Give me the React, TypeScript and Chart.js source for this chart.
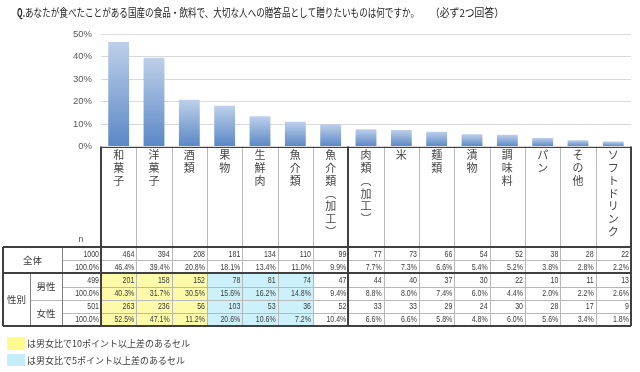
import React, { useEffect, useRef } from 'react';
import { Chart, registerables } from 'chart.js';

Chart.register(...registerables);

// ---- data ----
const categories = ['和菓子', '洋菓子', '酒類', '果物', '生鮮肉', '魚介類', '魚介類（加工）', '肉類（加工）', '米', '麺類', '漬物', '調味料', 'パン', 'その他', 'ソフトドリンク'];
const totalN = [464, 394, 208, 181, 134, 110, 99, 77, 73, 66, 54, 52, 38, 28, 22];
const totalPct = [46.4, 39.4, 20.8, 18.1, 13.4, 11.0, 9.9, 7.7, 7.3, 6.6, 5.4, 5.2, 3.8, 2.8, 2.2];
const maleN = [201, 158, 152, 78, 81, 74, 47, 44, 40, 37, 30, 22, 10, 11, 13];
const malePct = [40.3, 31.7, 30.5, 15.6, 16.2, 14.8, 9.4, 8.8, 8.0, 7.4, 6.0, 4.4, 2.0, 2.2, 2.6];
const femaleN = [263, 236, 56, 103, 53, 36, 52, 33, 33, 29, 24, 30, 28, 17, 9];
const femalePct = [52.5, 47.1, 11.2, 20.6, 10.6, 7.2, 10.4, 6.6, 6.6, 5.8, 4.8, 6.0, 5.6, 3.4, 1.8];
const baseN = [1000, 499, 501];
const highlight = ['y', 'y', 'y', 'c', 'c', 'c', '', '', '', '', '', '', '', '', ''];
const yTickMax = 50;
const yTickStep = 10;

const titleQ = 'Q.';
const titleMain = 'あなたが食べたことがある国産の食品・飲料で、大切な人への贈答品として贈りたいものは何ですか。';
const titleNote = '（必ず2つ回答）';
const legendYellow = 'は男女比で10ポイント以上差のあるセル';
const legendCyan = 'は男女比で5ポイント以上差のあるセル';
const labelTotal = '全体';
const labelGender = '性別';
const labelMale = '男性';
const labelFemale = '女性';
const labelN = 'n';

const CJK = '"Noto Sans CJK JP", "Noto Sans CJK SC", sans-serif';
const NUM = '"Liberation Sans", sans-serif';
const YELLOW = '#fdfbaa';
const CYAN = '#ccf1fa';
const DARK = '#404040';
const GRAY = '#b8b8b8';
const TEXT = '#3a3a3a';

function vertChars(s: string) {
  return Array.from(s).map((c) => (c === '（' ? '︵' : c === '）' ? '︶' : c));
}

function txt(ctx: CanvasRenderingContext2D, s: string, x: number, y: number, align: CanvasTextAlign, font: string, color: string, sx = 1) {
  ctx.save();
  ctx.font = font;
  ctx.fillStyle = color;
  ctx.textBaseline = 'middle';
  ctx.textAlign = align;
  ctx.translate(x, y);
  ctx.scale(sx, 1);
  ctx.fillText(s, 0, 0);
  ctx.restore();
}

function fitTxt(ctx: CanvasRenderingContext2D, s: string, x: number, y: number, font: string, color: string, width: number) {
  ctx.save();
  ctx.font = font;
  const mw = ctx.measureText(s).width;
  ctx.restore();
  txt(ctx, s, x, y, 'left', font, color, width / mw);
}

function line(ctx: CanvasRenderingContext2D, x1: number, y1: number, x2: number, y2: number, color: string, w = 1) {
  ctx.save();
  ctx.strokeStyle = color;
  ctx.lineWidth = w;
  ctx.beginPath();
  const o = w % 2 === 1 ? 0.5 : 0;
  if (x1 === x2) {
    const x = Math.round(x1) + o;
    ctx.moveTo(x, y1);
    ctx.lineTo(x, y2);
  } else {
    const y = Math.round(y1) + o;
    ctx.moveTo(x1, y);
    ctx.lineTo(x2, y);
  }
  ctx.stroke();
  ctx.restore();
}

const tablePlugin = {
  id: 'tablePlugin',
  afterDraw(chart: any) {
    const ctx: CanvasRenderingContext2D = chart.ctx;
    const xs = chart.scales.x;
    const area = chart.chartArea;
    const n = categories.length;
    const w = xs.getPixelForValue(1) - xs.getPixelForValue(0);
    const cx = (i: number) => xs.getPixelForValue(i);
    const colL = (i: number) => cx(i) - w / 2;
    const L = area.left;
    const R = area.right;
    const headTop = area.bottom;
    const tTop = 247;
    const tBot = 326;
    const rh = (tBot - tTop) / 6;
    const rowY = (k: number) => tTop + k * rh;
    const xLeft = 3;
    const xSplit = 62;
    const xGender = 30;

    // title
    fitTxt(ctx, titleQ, 17, 13, `bold 11px ${CJK}`, '#222', 8);
    fitTxt(ctx, titleMain, 25, 13, `11px ${CJK}`, '#222', 394);
    fitTxt(ctx, titleNote, 430, 13, `11px ${CJK}`, '#222', 74);

    // highlights
    for (let i = 0; i < n; i++) {
      const h = highlight[i];
      if (!h) continue;
      ctx.fillStyle = h === 'y' ? YELLOW : CYAN;
      ctx.fillRect(colL(i), rowY(2), w, rowY(6) - rowY(2));
    }

    // gray lines
    for (let i = 1; i < n; i++) {
      line(ctx, colL(i), headTop, colL(i), tBot, GRAY);
    }
    line(ctx, xSplit, rowY(1), R, rowY(1), GRAY);
    line(ctx, xSplit, rowY(3), R, rowY(3), GRAY);
    line(ctx, xGender, rowY(4), R, rowY(4), GRAY);
    line(ctx, xSplit, rowY(5), R, rowY(5), GRAY);
    line(ctx, xSplit, tTop, xSplit, tBot, '#808080');
    line(ctx, xGender, rowY(2), xGender, tBot, '#808080');

    // dark lines
    line(ctx, L, headTop, R, headTop, DARK);
    line(ctx, xLeft, tTop, R, tTop, DARK, 2);
    line(ctx, xLeft, rowY(2), R, rowY(2), DARK, 2);
    line(ctx, xLeft, tBot, R, tBot, DARK, 2);
    line(ctx, L, headTop, L, tBot, DARK, 2);
    line(ctx, R, headTop, R, tBot, DARK, 2);
    line(ctx, xLeft, tTop, xLeft, tBot, DARK, 2);
    line(ctx, colL(7), headTop, colL(7), tBot, DARK, 2);

    // vertical category labels
    for (let i = 0; i < n; i++) {
      const chars = vertChars(categories[i]);
      chars.forEach((c, k) => {
        txt(ctx, c, cx(i), 155 + k * 12.8, 'center', `11px ${CJK}`, '#454545');
      });
    }

    // n label
    txt(ctx, labelN, 81, 240, 'center', `9px "Liberation Sans", sans-serif`, '#555');

    // left labels
    txt(ctx, labelTotal, (xLeft + xSplit) / 2, (rowY(0) + rowY(2)) / 2, 'center', `9.5px ${CJK}`, TEXT);
    txt(ctx, labelGender, (xLeft + xGender) / 2, (rowY(2) + rowY(6)) / 2, 'center', `9.5px ${CJK}`, TEXT);
    txt(ctx, labelMale, (xGender + xSplit) / 2, (rowY(2) + rowY(4)) / 2, 'center', `9.5px ${CJK}`, TEXT);
    txt(ctx, labelFemale, (xGender + xSplit) / 2, (rowY(4) + rowY(6)) / 2 + 1, 'center', `9.5px ${CJK}`, TEXT);

    // numbers
    const numFont = `9px ${NUM}`;
    const sx = 0.78;
    const rows: [number[], number[]][] = [
      [totalN, totalPct],
      [maleN, malePct],
      [femaleN, femalePct],
    ];
    rows.forEach(([ns, ps], r) => {
      const yN = (rowY(r * 2) + rowY(r * 2 + 1)) / 2 + 0.5;
      const yP = (rowY(r * 2 + 1) + rowY(r * 2 + 2)) / 2 + 0.5;
      txt(ctx, String(baseN[r]), L - 2, yN, 'right', numFont, TEXT, sx);
      txt(ctx, '100.0%', L - 2, yP, 'right', numFont, TEXT, sx);
      for (let i = 0; i < n; i++) {
        const xr = colL(i) + w - 2;
        txt(ctx, String(ns[i]), xr, yN, 'right', numFont, TEXT, sx);
        txt(ctx, ps[i].toFixed(1) + '%', xr, yP, 'right', numFont, TEXT, sx);
      }
    });

    // legend
    ctx.fillStyle = '#fffb8f';
    ctx.fillRect(7, 337, 18, 13);
    ctx.fillStyle = '#c4effa';
    ctx.fillRect(7, 354, 18, 12);
    txt(ctx, legendYellow, 27, 343.5, 'left', `9px ${CJK}`, TEXT);
    txt(ctx, legendCyan, 27, 360.5, 'left', `9px ${CJK}`, TEXT);
  },
};

export default function App() {
  const ref = useRef<HTMLCanvasElement | null>(null);
  useEffect(() => {
    if (!ref.current) return;
    const chart = new Chart(ref.current, {
      type: 'bar',
      data: {
        labels: categories,
        datasets: [
          {
            data: totalPct,
            backgroundColor: (c: any) => {
              const ch = c.chart;
              const y = ch.scales && ch.scales.y;
              if (!y || c.raw == null) return '#7f9fd0';
              const t = y.getPixelForValue(c.raw);
              const b = y.getPixelForValue(0);
              if (!isFinite(t) || !isFinite(b) || t === b) return '#7f9fd0';
              const g = ch.ctx.createLinearGradient(0, t, 0, b);
              g.addColorStop(0, '#bed0ea');
              g.addColorStop(1, '#5a87c6');
              return g;
            },
            borderWidth: 0,
            barPercentage: 0.59,
            categoryPercentage: 1,
          },
        ],
      },
      options: {
        responsive: false,
        animation: false,
        devicePixelRatio: 1,
        layout: { padding: { left: 0, right: 9, top: 34, bottom: 0 } },
        plugins: { legend: { display: false }, tooltip: { enabled: false }, title: { display: false } },
        scales: {
          x: {
            grid: { display: false },
            border: { display: false },
            ticks: { display: false },
            afterFit: (s: any) => {
              s.height = 372 - 146.5;
            },
          },
          y: {
            min: 0,
            max: yTickMax,
            ticks: {
              stepSize: yTickStep,
              callback: (v: any) => v + '%',
              color: '#595959',
              font: { family: '"Liberation Sans", sans-serif', size: 9.5 },
              padding: 9,
            },
            grid: { color: '#d9d9d9', drawTicks: false },
            border: { display: false },
            afterFit: (s: any) => {
              s.width = 101;
            },
          },
        },
      } as any,
      plugins: [tablePlugin],
    });
    return () => chart.destroy();
  }, []);
  return (
    <div style={{ position: 'fixed', left: 0, top: 0, width: 640, height: 372, background: '#fff' }}>
      <canvas ref={ref} width={640} height={372} style={{ display: 'block', width: 640, height: 372 }} />
    </div>
  );
}
